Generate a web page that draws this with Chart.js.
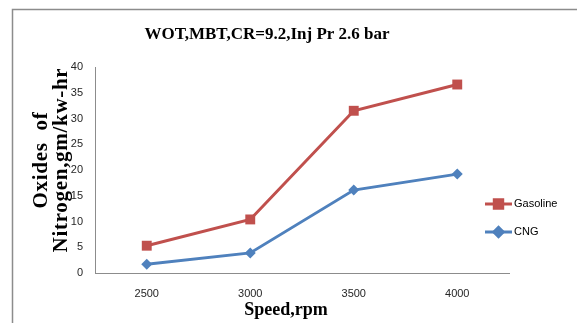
<!DOCTYPE html>
<html>
<head>
<meta charset="utf-8">
<script src="https://cdn.jsdelivr.net/npm/chart.js@4/dist/chart.umd.min.js"></script>
<style>
  html, body { margin: 0; padding: 0; background: #fff; }
  #wrap { position: relative; width: 577px; height: 323px; }
</style>
</head>
<body>
<div id="wrap"><canvas id="chart"></canvas></div>
<script>
// NOx emissions vs engine speed, gasoline vs CNG
const speeds = ["2500", "3000", "3500", "4000"];
const gasoline = [5.3, 10.4, 31.5, 36.6];
const cng = [1.7, 3.9, 16.1, 19.2];
const yTicks = [0, 5, 10, 15, 20, 25, 30, 35, 40];
const yTitle = ["Oxides  of", "Nitrogen,gm/kw-hr"];

const RED = "#C0504D";
const BLUE = "#4F81BD";
const SERIF = "'Liberation Serif', 'Times New Roman', serif";
const SANS = "'Liberation Sans', Arial, sans-serif";

// frame, chart title, axis titles and legend
const decorations = {
  id: "decorations",
  beforeDraw(chart) {
    const ctx = chart.ctx;
    ctx.save();
    ctx.strokeStyle = "#8c8c8c";
    ctx.lineWidth = 1.5;
    ctx.beginPath();
    ctx.moveTo(12.5, 323);
    ctx.lineTo(12.5, 9.5);
    ctx.lineTo(577, 9.5);
    ctx.stroke();
    ctx.restore();
  },
  afterDraw(chart) {
    const ctx = chart.ctx;
    ctx.save();
    ctx.fillStyle = "#000";
    ctx.textAlign = "center";
    ctx.textBaseline = "middle";
    ctx.font = "bold 17px " + SERIF;
    ctx.fillText("WOT,MBT,CR=9.2,Inj Pr 2.6 bar", 267, 35);
    ctx.font = "bold 18px " + SERIF;
    ctx.fillText("Speed,rpm", 286, 310);

    // rotated y title, two lines
    ctx.save();
    ctx.translate(0, 160);
    ctx.rotate(-Math.PI / 2);
    ctx.font = "bold 21px " + SERIF;
    ctx.letterSpacing = "0.7px";
    yTitle.forEach((line, i) => ctx.fillText(line, 0, 42 + i * 20));
    ctx.restore();

    // legend
    ctx.font = "11px " + SANS;
    ctx.textAlign = "left";
    chart.data.datasets.forEach((ds, i) => {
      const y = 204 + i * 28;
      ctx.strokeStyle = ds.borderColor;
      ctx.lineWidth = 3;
      ctx.beginPath();
      ctx.moveTo(485, y);
      ctx.lineTo(512, y);
      ctx.stroke();
      Chart.helpers.drawPoint(ctx, {
        pointStyle: ds.pointStyle,
        radius: ds.pointRadius * 0.85,
        borderWidth: 1,
      }, 498.5, y);
      ctx.fillStyle = ds.borderColor;
      ctx.fill();
      ctx.fillStyle = "#000";
      ctx.fillText(ds.label, 514, y);
    });
    ctx.restore();
  },
};

new Chart(document.getElementById("chart"), {
  type: "line",
  data: {
    labels: speeds,
    datasets: [{
      label: "Gasoline",
      data: gasoline,
      borderColor: RED,
      backgroundColor: RED,
      borderWidth: 3,
      pointStyle: "rect",
      pointRadius: 7,
      pointBorderWidth: 0,
      tension: 0,
    }, {
      label: "CNG",
      data: cng,
      borderColor: BLUE,
      backgroundColor: BLUE,
      borderWidth: 3,
      pointStyle: "rectRot",
      pointRadius: 5.5,
      pointBorderWidth: 0,
      tension: 0,
    }],
  },
  options: {
    responsive: true,
    maintainAspectRatio: false,
    animation: false,
    layout: { padding: { left: 0, top: 67, right: 68, bottom: 0 } },
    plugins: {
      legend: { display: false },
      title: { display: false },
      tooltip: { enabled: false },
    },
    scales: {
      x: {
        offset: true,
        grid: { display: false, drawTicks: false },
        border: { color: "#8c8c8c", width: 1 },
        ticks: { color: "#262626", font: { family: SANS, size: 11 }, padding: 14 },
        afterFit(scale) { scale.height = 50; },
      },
      y: {
        min: 0,
        max: 40,
        afterBuildTicks(scale) { scale.ticks = yTicks.map(v => ({ value: v })); },
        grid: { display: false, drawTicks: false },
        border: { color: "#8c8c8c", width: 1 },
        ticks: { color: "#262626", font: { family: SANS, size: 11 }, padding: 12 },
        afterFit(scale) { scale.width = 95; },
      },
    },
  },
  plugins: [decorations],
});
</script>
</body>
</html>
